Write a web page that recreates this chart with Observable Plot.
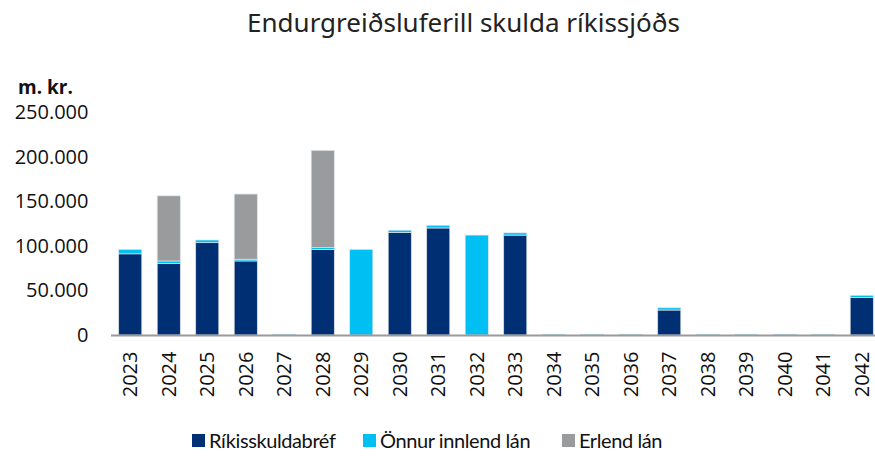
<!DOCTYPE html>
<html><head><meta charset="utf-8">
<script src="https://cdn.jsdelivr.net/npm/d3@7"></script>
<script src="https://cdn.jsdelivr.net/npm/@observablehq/plot@0.6"></script>
<style>
body{margin:0;background:#fff;}
#wrap{position:relative;width:875px;height:459px;font-family:"Open Sans",sans-serif;overflow:hidden;}
#title{position:absolute;left:0;top:9px;width:927px;text-align:center;font-family:"Noto Sans",sans-serif;font-size:26px;line-height:26px;color:#222;}
#unit{position:absolute;left:18px;top:74px;font-weight:bold;font-size:19px;color:#111;}
#chart{position:absolute;left:0;top:60px;}
#legend{position:absolute;top:428px;left:0;width:875px;font-family:Lato,sans-serif;font-size:20px;letter-spacing:-0.4px;color:#111;}
.li{position:absolute;display:flex;align-items:center;}
.sw{width:13px;height:13px;margin-right:4px;}
</style></head>
<body><div id="wrap"><div id="title">Endurgreiðsluferill skulda ríkissjóðs</div><div id="unit">m. kr.</div><div id="chart"></div><div id="legend"></div></div>
<script>
const years = ["2023","2024","2025","2026","2027","2028","2029","2030","2031","2032","2033","2034","2035","2036","2037","2038","2039","2040","2041","2042"];
const seriesNames = ["Ríkisskuldabréf","Önnur innlend lán","Erlend lán"];
const colors = ["#002F73","#00BFF2","#9A9B9D"];
const rikis  = [91000,80000,103500,83000,0,96000,0,115000,120000,0,112000,0,0,0,28000,0,0,0,0,42000];
const onnur  = [5000,3000,3000,2000,1000,2000,96000,2500,3000,112000,2500,1000,1000,1000,2500,1000,1000,1000,1000,2500];
const erlend = [0,73000,0,73000,0,109000,0,0,0,0,0,0,0,0,0,0,0,0,0,0];
const yTicks = [0,50000,100000,150000,200000,250000];

const cols = [rikis, onnur, erlend];
const data = [];
seriesNames.forEach((s,i)=>years.forEach((y,j)=>data.push({year:y, series:s, value:cols[i][j]})));

const fmt = d3.formatLocale({decimal:",", thousands:".", grouping:[3], currency:["",""]}).format(",");

const chart = Plot.plot({
  width: 875, height: 345,
  marginTop: 52, marginBottom: 70, marginLeft: 111, marginRight: 0,
  style: {fontFamily: "Open Sans, sans-serif", fontSize: "20px", color: "#111", background: "transparent", overflow: "visible"},
  x: {domain: years, range: [111, 881], round: false, paddingInner: 0.4, paddingOuter: 0.2, label: null, tickSize: 0, tickRotate: -90, tickPadding: 16},
  y: {domain: [0,250000], ticks: yTicks, tickFormat: d => fmt(d), label: null, tickSize: 0, tickPadding: 23},
  color: {domain: seriesNames, range: colors},
  marks: [
    Plot.barY(data, {x:"year", y:"value", fill:"series", stroke:"#dfe3ea", strokeWidth:0.7, order: seriesNames}),
    Plot.ruleY([0], {stroke:"#9a9a9a", strokeWidth:2})
  ]
});
document.getElementById("chart").appendChild(chart);

const legendPos = [192, 363, 562];
const lg = document.getElementById("legend");
seriesNames.forEach((s,i)=>{
  const d = document.createElement("div");
  d.className = "li"; d.style.left = legendPos[i]+"px";
  d.innerHTML = `<span class="sw" style="background:${colors[i]}"></span><span>${s}</span>`;
  lg.appendChild(d);
});
</script></body></html>
